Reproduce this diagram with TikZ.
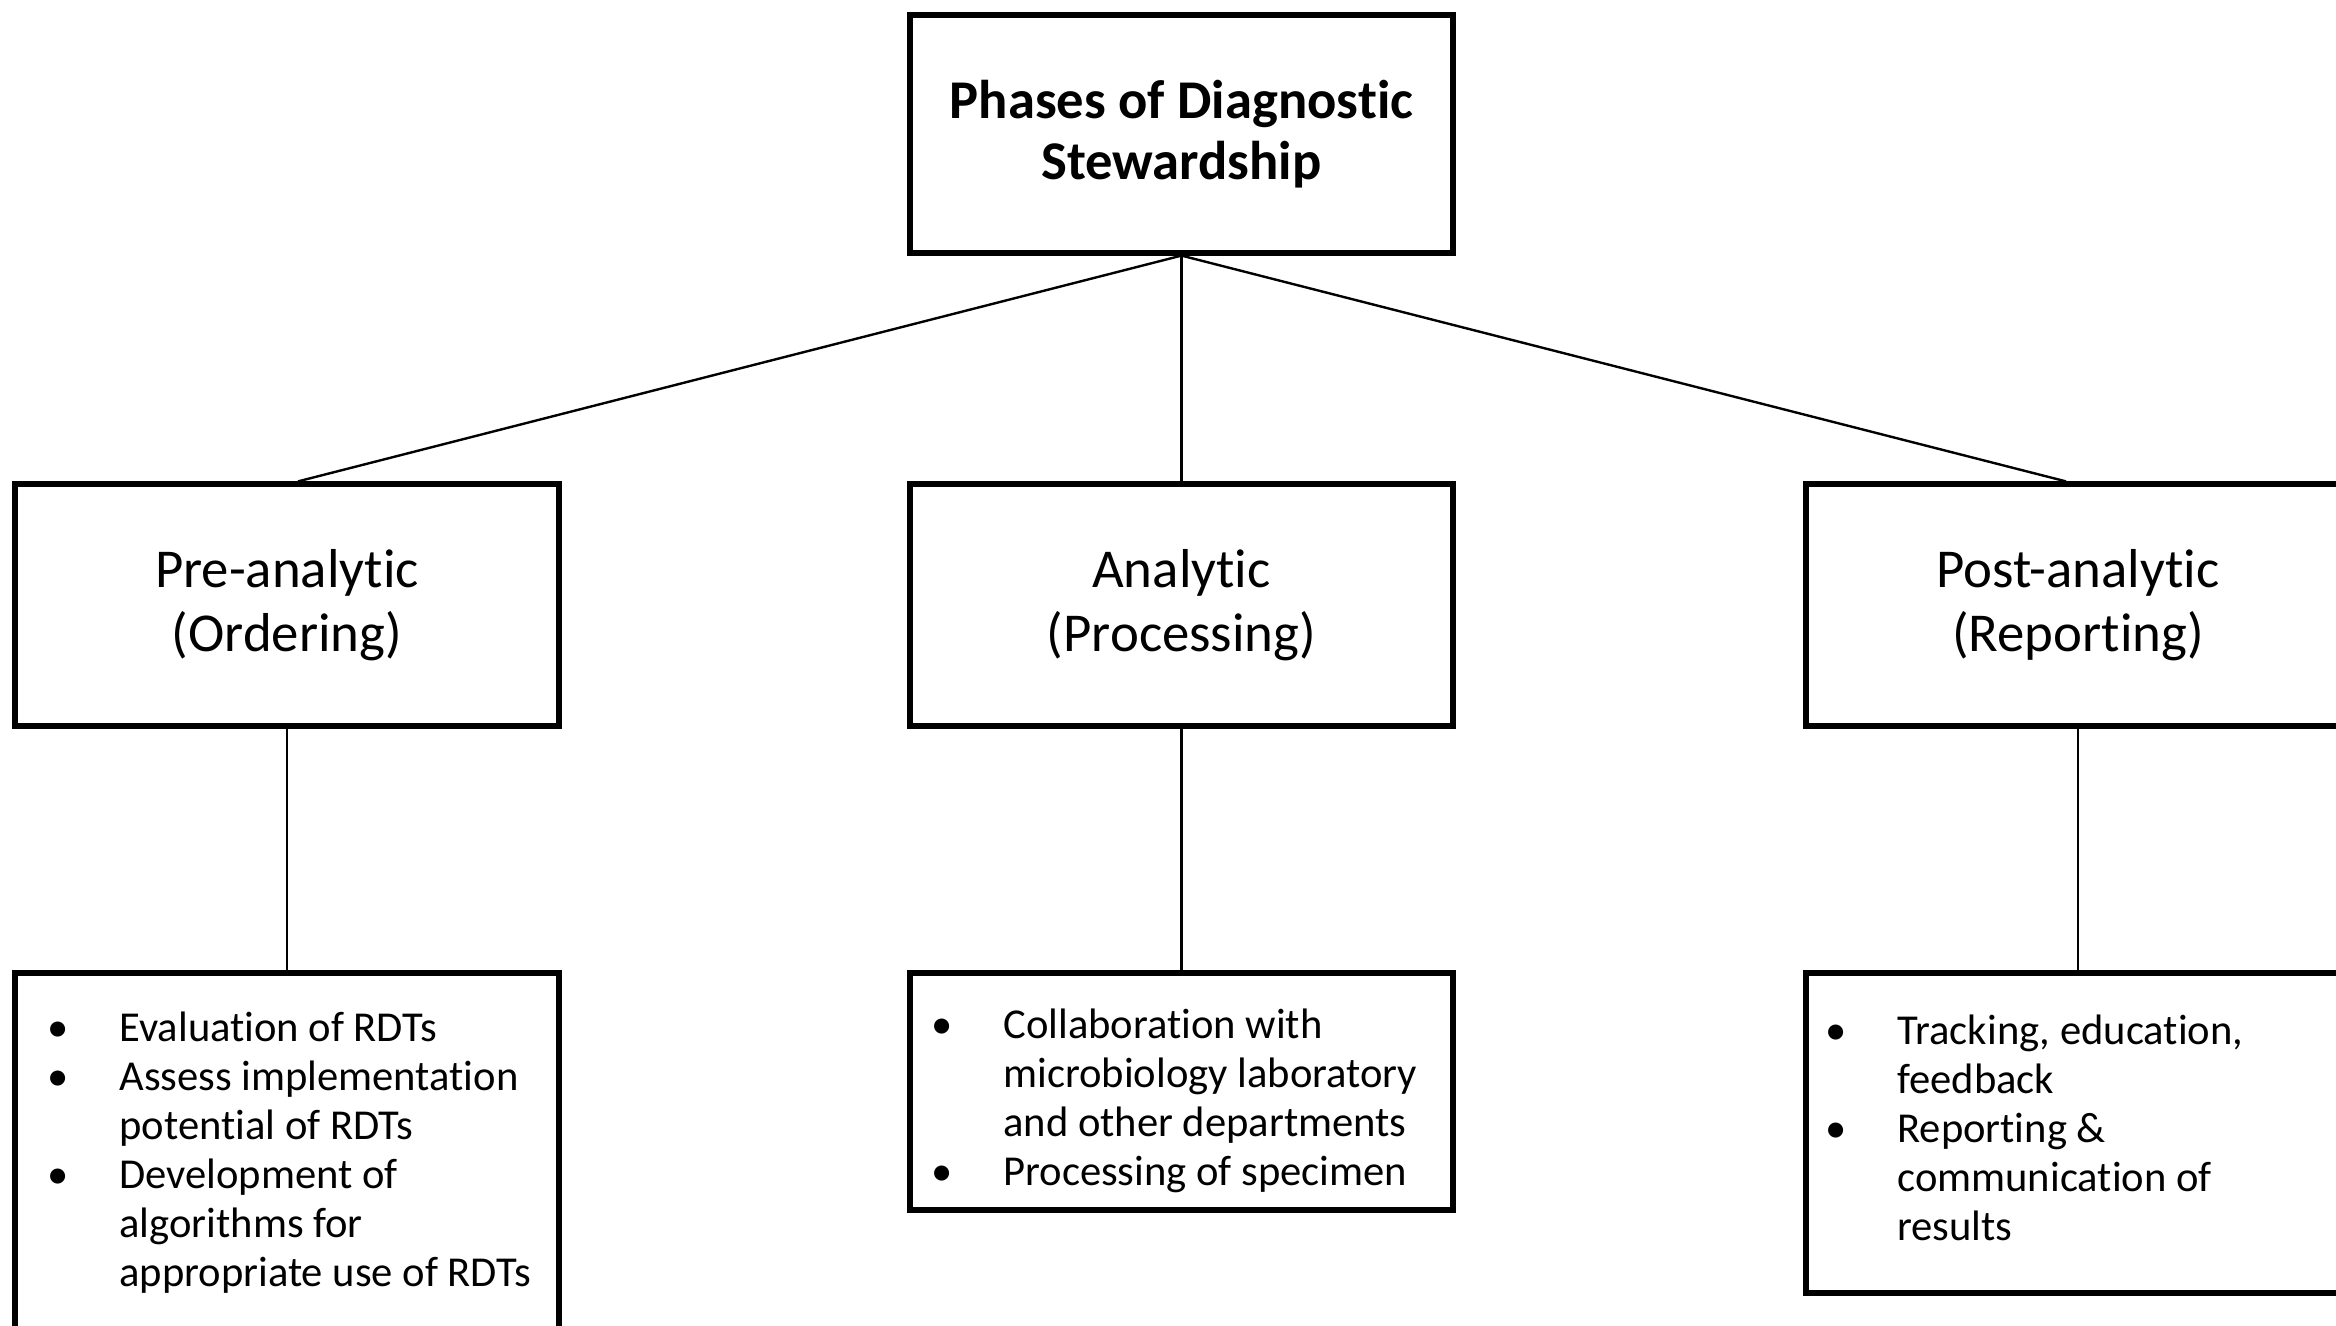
\documentclass[tikz,border=0pt]{standalone}
\usepackage{fontspec}
\setmainfont{Carlito}[Ligatures=NoCommon]
\usetikzlibrary{calc}
% bullet hanging to the left of a list line
\newcommand{\bul}{\leavevmode\llap{\textbullet\hspace{25.5pt}}}
\begin{document}
\begin{tikzpicture}[x=0.5pt,y=-0.5pt,
  box/.style={draw=black,line width=2.6pt,rectangle,inner sep=0pt},
  link/.style={draw=black,line width=1.2pt},
  head/.style={font=\bfseries\fontsize{27.3}{30.5}\selectfont,align=center},
  phase/.style={font=\fontsize{27.4}{32}\selectfont,align=center},
  list/.style={font=\fontsize{21.3}{24.5}\selectfont,align=flush left,text width=240pt,
    anchor=base west,inner sep=0pt}]
\useasboundingbox (0,0) rectangle (2336,1326);
\clip (0,0) rectangle (2336,1326);
\fill[white] (0,0) rectangle (2336,1326);

% top node
\node[box,head,minimum width=271.5pt,minimum height=119pt] (top) at (1181.5,134)
  {Phases of Diagnostic\\Stewardship};

% the three phases
\node[box,phase,minimum width=272pt,minimum height=121pt] (pre) at (287,605)
  {Pre-analytic\\(Ordering)};
\node[box,phase,minimum width=271.5pt,minimum height=121pt] (ana) at (1181.5,605)
  {Analytic\\(Processing)};
\node[box,phase,minimum width=272pt,minimum height=121pt] (post) at (2078,605)
  {Post-analytic\\(Reporting)};

% activity boxes
\node[box,minimum width=272pt,minimum height=213.5pt] (preL) at (287,1186.5) {};
\node[box,minimum width=271.5pt,minimum height=118.5pt] (anaL) at (1181.5,1091.5) {};
\node[box,minimum width=272pt,minimum height=160pt] (postL) at (2078,1133) {};

% list texts
\node[list] (preT) at (119,1041)
  {\bul Evaluation of RDTs\\
   \bul Assess implementation\\
   potential of RDTs\\
   \bul Development of\\
   algorithms for\\
   appropriate use of RDTs};
\node[list] (anaT) at (1003,1038)
  {\bul Collaboration with\\
   microbiology laboratory\\
   and other departments\\
   \bul Processing of specimen};
\node[list] (postT) at (1897,1044)
  {\bul Tracking, education,\\
   feedback\\
   \bul Reporting \&\\
   communication of\\
   results};

% connectors
\draw[link] (top.south) -- ([xshift=5.5pt]pre.north);
\draw[link] (top.south) -- (ana.north);
\draw[link] (top.south) -- ([xshift=-6pt]post.north);
\draw[link] (pre.south) -- (preL.north);
\draw[link] (ana.south) -- (anaL.north);
\draw[link] (post.south) -- (postL.north);
\end{tikzpicture}
\end{document}
